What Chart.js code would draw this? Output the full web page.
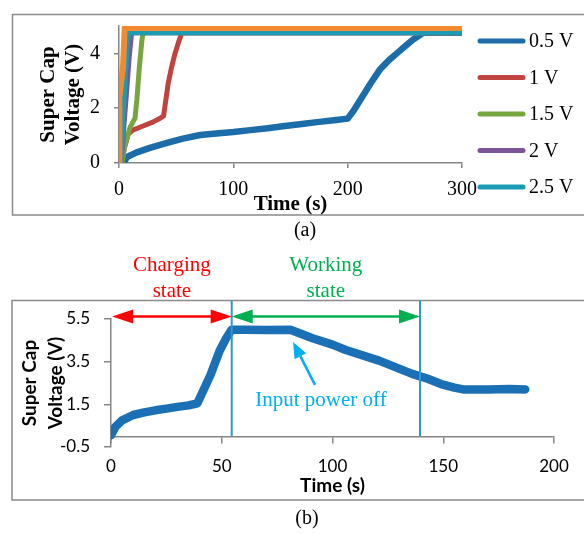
<!DOCTYPE html>
<html>
<head>
<meta charset="utf-8">
<script src="https://cdn.jsdelivr.net/npm/chart.js@4.4.1/dist/chart.umd.min.js"></script>
<style>
  body { margin: 0; background: #fff; width: 584px; height: 534px; position: relative; overflow: hidden; }
  canvas { position: absolute; left: 0; }
  #chartA { top: 0; }
  #chartB { top: 240px; }
  .cap { position: absolute; width: 60px; text-align: center; font: 20px "Liberation Serif", serif; line-height: 24px; color: #000; }
</style>
</head>
<body>
<canvas id="chartA" width="584" height="232"></canvas>
<div class="cap" style="left:275px; top:217px">(a)</div>
<canvas id="chartB" width="584" height="294"></canvas>
<div class="cap" style="left:277px; top:505px">(b)</div>
<script>
// (a) super cap charging for different input voltages
const labelsA = ["0.5 V", "1 V", "1.5 V", "2 V", "2.5 V", "3 V"];
const colorsA = ["#1c6ca9", "#c0433f", "#77a640", "#7a559a", "#1b9bb4", "#f28b30"];

const t05 = [4, 7, 15, 27, 42, 55, 71, 85, 100, 115, 130, 145, 160, 175, 190, 200, 205, 211, 220, 228, 236, 243, 250, 257, 266, 280, 300];
const v05 = [0, 0.22, 0.38, 0.55, 0.73, 0.88, 1.02, 1.08, 1.13, 1.2, 1.27, 1.35, 1.42, 1.5, 1.57, 1.62, 1.9, 2.3, 2.9, 3.4, 3.75, 4.0, 4.25, 4.5, 4.75, 4.75, 4.75];
const t10 = [2, 5, 8, 12, 21, 30, 36, 39, 43, 46, 49, 52, 55, 300];
const v10 = [0, 0.6, 1.05, 1.2, 1.35, 1.5, 1.63, 1.72, 2.9, 3.5, 4.0, 4.4, 4.75, 4.75];
const t15 = [2.6, 5, 9.6, 14, 15.6, 17.8, 20, 21, 300];
const v15 = [0, 0.6, 1.3, 1.63, 2.3, 3.5, 4.47, 4.75, 4.75];
const t20 = [2, 4, 7, 9, 11, 300];
const v20 = [0, 1.2, 2.8, 3.9, 4.75, 4.75];
const t25 = [2, 3, 5, 7, 8.5, 300];
const v25 = [0, 1.3, 2.8, 4.2, 4.75, 4.75];
const t30 = [0, 0.3, 3.5, 5, 300];
const v30 = [0, 2.4, 3.5, 4.93, 4.93];

const timesA = [t05, t10, t15, t20, t25, t30];
const voltsA = [v05, v10, v15, v20, v25, v30];
const xTicksA = { min: 0, max: 300, step: 100 };
const yTicksA = { min: 0, max: 5, step: 2 };

// (b) charging then working (input power off)
const tB = [0, 2, 5, 10, 15, 20, 25, 30, 35, 39, 41, 45, 49, 52, 54.5, 60, 70, 81, 91, 100, 106, 121, 136, 143, 149, 155, 159, 170, 180, 187];
const vB = [0.05, 0.45, 0.75, 1.0, 1.12, 1.22, 1.3, 1.38, 1.45, 1.55, 2.0, 2.9, 4.0, 4.6, 5.0, 5.0, 4.98, 5.0, 4.6, 4.3, 4.05, 3.55, 2.93, 2.7, 2.45, 2.28, 2.2, 2.2, 2.22, 2.2];
const xTicksB = { min: 0, max: 200, step: 50 };
const yTicksB = { min: -0.5, max: 5.5, step: 2 };
const phaseMarks = [54.5, 139.5];

const axisGray = "#868686";
const serif = "'Liberation Serif', 'Times New Roman', serif";
const sans = "Lato, 'Open Sans', sans-serif";

const toPoints = (ts, vs) => ts.map((t, i) => ({ x: t, y: vs[i] }));

// grey frame round each chart
const framePlugin = {
  id: 'frame',
  beforeDraw(chart, args, o) {
    const ctx = chart.ctx;
    ctx.save();
    ctx.strokeStyle = "#8a8a8a";
    ctx.lineWidth = 1.5;
    ctx.strokeRect(o.left, o.top, o.right - o.left, o.bottom - o.top);
    ctx.restore();
  }
};

const sideLegend = {
  id: 'sideLegend',
  afterDraw(chart, args, o) {
    const ctx = chart.ctx;
    ctx.save();
    chart.data.datasets.slice(0, o.count).forEach((ds, i) => {
      const y = o.top + i * o.gap;
      ctx.strokeStyle = ds.borderColor;
      ctx.lineWidth = 5;
      ctx.lineCap = 'round';
      ctx.beginPath();
      ctx.moveTo(o.x, y);
      ctx.lineTo(o.x + o.len, y);
      ctx.stroke();
      ctx.fillStyle = '#000';
      ctx.font = "20px " + serif;
      ctx.textBaseline = 'middle';
      ctx.fillText(ds.label, o.x + o.len + 6, y + 1);
    });
    ctx.restore();
  }
};

function arrowHead(ctx, tx, ty, fx, fy, len, half) {
  const a = Math.atan2(ty - fy, tx - fx);
  const bx = tx - len * Math.cos(a), by = ty - len * Math.sin(a);
  ctx.beginPath();
  ctx.moveTo(tx, ty);
  ctx.lineTo(bx + half * Math.sin(a), by - half * Math.cos(a));
  ctx.lineTo(bx - half * Math.sin(a), by + half * Math.cos(a));
  ctx.closePath();
  ctx.fill();
}

const phasePlugin = {
  id: 'phases',
  afterDatasetsDraw(chart, args, o) {
    const { ctx, scales: { x, y } } = chart;
    const yZero = y.getPixelForValue(0);
    const yArrow = y.getPixelForValue(o.arrowLevel);
    ctx.save();
    ctx.strokeStyle = o.markColor;
    ctx.lineWidth = 2;
    o.marks.forEach(t => {
      const px = x.getPixelForValue(t);
      ctx.beginPath();
      ctx.moveTo(px, o.frameTop);
      ctx.lineTo(px, yZero);
      ctx.stroke();
    });

    ctx.font = "21px " + serif;
    ctx.textAlign = 'center';
    ctx.textBaseline = 'middle';
    o.phases.forEach(p => {
      const x1 = x.getPixelForValue(p.from), x2 = x.getPixelForValue(p.to);
      ctx.strokeStyle = p.color;
      ctx.fillStyle = p.color;
      ctx.lineWidth = 2.5;
      ctx.beginPath();
      ctx.moveTo(x1 + 15, yArrow);
      ctx.lineTo(x2 - 15, yArrow);
      ctx.stroke();
      arrowHead(ctx, x1, yArrow, x2, yArrow, 21, 7);
      arrowHead(ctx, x2, yArrow, x1, yArrow, 21, 7);
      p.text.forEach((line, i) => ctx.fillText(line, (x1 + x2) / 2, yArrow - 51 + i * 26));
    });

    // "Input power off" pointer
    const n = o.note;
    const tipX = x.getPixelForValue(n.tip[0]), tipY = y.getPixelForValue(n.tip[1]);
    const tailX = x.getPixelForValue(n.tail[0]), tailY = y.getPixelForValue(n.tail[1]);
    ctx.strokeStyle = n.color;
    ctx.fillStyle = n.color;
    ctx.lineWidth = 2.5;
    ctx.beginPath();
    ctx.moveTo(tailX, tailY);
    ctx.lineTo(tipX + (tailX - tipX) * 0.3, tipY + (tailY - tipY) * 0.3);
    ctx.stroke();
    arrowHead(ctx, tipX, tipY, tailX, tailY, 16, 6.5);
    ctx.fillText(n.text, x.getPixelForValue(n.at[0]), y.getPixelForValue(n.at[1]));
    ctx.restore();
  }
};

new Chart(document.getElementById('chartA'), {
  type: 'line',
  data: {
    datasets: labelsA.map((label, i) => ({
      label: label,
      data: toPoints(timesA[i], voltsA[i]),
      borderColor: colorsA[i],
      backgroundColor: colorsA[i],
      borderWidth: i === 0 ? 6.5 : (i === 5 ? 6 : 5),
      order: labelsA.length - 1 - i
    }))
  },
  options: {
    responsive: false,
    animation: false,
    devicePixelRatio: 1,
    layout: { padding: { left: 0, top: 25.5, right: 122, bottom: 0 } },
    elements: { point: { radius: 0 }, line: { tension: 0, borderJoinStyle: 'round' } },
    plugins: {
      legend: { display: false },
      tooltip: { enabled: false },
      frame: { left: 12.5, top: 14.5, right: 600, bottom: 215 },
      sideLegend: { x: 480, len: 43, top: 41, gap: 36.5, count: 5 }
    },
    scales: {
      x: {
        type: 'linear',
        min: xTicksA.min, max: xTicksA.max,
        ticks: { stepSize: xTicksA.step, color: '#000', padding: 10, font: { family: serif, size: 20 } },
        grid: { drawOnChartArea: false, tickLength: 5, color: axisGray, lineWidth: 1.5 },
        border: { color: axisGray, width: 1.5 },
        title: { display: true, text: 'Time (s)', color: '#000', font: { family: serif, size: 21, weight: 'bold', lineHeight: 1.2 }, padding: { top: 0, bottom: 15 } },
        afterFit: s => { s.height = 69; }
      },
      y: {
        min: yTicksA.min, max: yTicksA.max,
        ticks: { stepSize: yTicksA.step, includeBounds: false, color: '#000', padding: 14, font: { family: serif, size: 20 } },
        grid: { drawOnChartArea: false, tickLength: 5, color: axisGray, lineWidth: 1.5 },
        border: { color: axisGray, width: 1.5 },
        title: { display: true, text: ['Super Cap', 'Voltage (V)'], color: '#000', font: { family: serif, size: 21, weight: 'bold', lineHeight: 1.2 }, padding: { top: 36, bottom: 0 } },
        afterFit: s => { s.width = 119; }
      }
    }
  },
  plugins: [framePlugin, sideLegend]
});

new Chart(document.getElementById('chartB'), {
  type: 'line',
  data: {
    datasets: [{
      label: 'Super Cap Voltage',
      data: toPoints(tB, vB),
      xAxisID: 'x',
      borderColor: '#1b6fb5',
      borderWidth: 8.5,
      borderCapStyle: 'round'
    }]
  },
  options: {
    responsive: false,
    animation: false,
    devicePixelRatio: 1,
    layout: { padding: { left: 0, top: 79, right: 30, bottom: 29 } },
    elements: { point: { radius: 0 }, line: { tension: 0, borderJoinStyle: 'round' } },
    plugins: {
      legend: { display: false },
      tooltip: { enabled: false },
      frame: { left: 12, top: 60.5, right: 600, bottom: 260 },
      phases: {
        arrowLevel: 5.62,
        frameTop: 60.5,
        marks: phaseMarks,
        markColor: '#2e98d6',
        phases: [
          { from: 0.5, to: phaseMarks[0], color: '#ff0000', text: ['Charging', 'state'] },
          { from: phaseMarks[0], to: phaseMarks[1], color: '#00b050', text: ['Working', 'state'] }
        ],
        note: { text: 'Input power off', color: '#00b0f0', tip: [82.2, 4.42], tail: [92.1, 2.41], at: [94.8, 1.7] }
      }
    },
    scales: {
      x: {
        type: 'linear',
        position: 'bottom',
        min: xTicksB.min, max: xTicksB.max,
        ticks: { stepSize: xTicksB.step, color: '#000', padding: 9, font: { family: sans, size: 17 } },
        grid: { display: false, drawTicks: false },
        border: { display: false },
        title: { display: true, text: 'Time (s)', color: '#000', font: { family: sans, size: 19, weight: 'bold', lineHeight: 1.2 }, padding: { top: 0, bottom: 7.5 } },
        afterFit: s => { s.height = 58; }
      },
      x0: {
        type: 'linear',
        position: { y: 0 },
        min: xTicksB.min, max: xTicksB.max,
        ticks: { stepSize: xTicksB.step, display: false },
        grid: { drawOnChartArea: false, tickLength: 6, color: axisGray, lineWidth: 1.5 },
        border: { color: axisGray, width: 1.5 }
      },
      y: {
        min: yTicksB.min, max: yTicksB.max,
        ticks: { stepSize: yTicksB.step, color: '#000', padding: 14, font: { family: sans, size: 17 } },
        grid: { drawOnChartArea: false, tickLength: 7, color: axisGray, lineWidth: 1.5 },
        border: { color: axisGray, width: 1.5 },
        title: { display: true, text: ['Super Cap', 'Voltage (V)'], color: '#000', font: { family: sans, size: 19, weight: 'bold', lineHeight: 1.37 }, padding: { top: 17, bottom: 0 } },
        afterFit: s => { s.width = 111; }
      }
    }
  },
  plugins: [framePlugin, phasePlugin]
});
</script>
</body>
</html>
